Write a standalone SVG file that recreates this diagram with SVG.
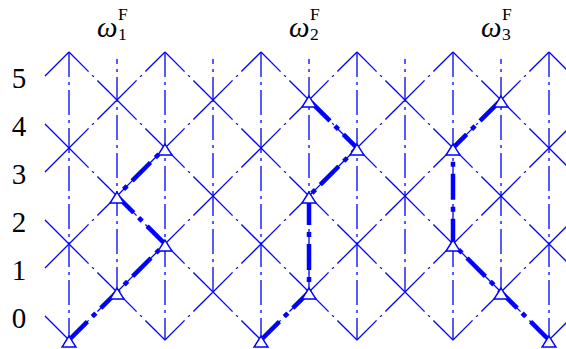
<svg xmlns="http://www.w3.org/2000/svg" xmlns:xlink="http://www.w3.org/1999/xlink" width="566" height="349" viewBox="0 0 566 349">
<style>
.thin{fill:none;stroke:#0000ff;stroke-width:1.3}
.diag{stroke-dasharray:27.7 5 2.5 5}
.vert{stroke-dasharray:25 5 3 5}
.thick{fill:none;stroke:#0000ff;stroke-width:4.5;stroke-dasharray:26 7 5 7;stroke-linejoin:miter}
.tri{fill:#fff;stroke:#0000ff;stroke-width:1.4}
</style>
<defs>
<polygon id="tri" class="tri" points="0,-4 -7,7 7,7"/>
</defs>
<g id="grid">
<path class="thin diag" d="M69,340L117,292M117,292L165,244M165,244L213,196M213,196L261,148M261,148L309,100M309,100L357,52
M165,340L213,292M213,292L261,244M261,244L309,196M309,196L357,148M357,148L405,100M405,100L453,52
M261,340L309,292M309,292L357,244M357,244L405,196M405,196L453,148M453,148L501,100M501,100L549,52
M357,340L405,292M405,292L453,244M453,244L501,196M501,196L549,148
M453,340L501,292M501,292L549,244
M69,244L117,196M117,196L165,148M165,148L213,100M213,100L261,52
M69,148L117,100M117,100L165,52
M69,52L117,100M117,100L165,148M165,148L213,196M213,196L261,244M261,244L309,292M309,292L357,340
M165,52L213,100M213,100L261,148M261,148L309,196M309,196L357,244M357,244L405,292M405,292L453,340
M261,52L309,100M309,100L357,148M357,148L405,196M405,196L453,244M453,244L501,292M501,292L549,340
M357,52L405,100M405,100L453,148M453,148L501,196M501,196L549,244
M453,52L501,100M501,100L549,148
M69,148L117,196M117,196L165,244M165,244L213,292M213,292L261,340
M69,244L117,292M117,292L165,340"/>
<path class="thin" d="M45,76L69,52M45,172L69,148M45,268L69,244M45,124L69,148M45,220L69,244M45,316L69,340
M549,148L573,124M549,244L573,220M549,340L573,316M549,244L573,268M549,148L573,172M549,52L573,76"/>
<path class="thin vert" d="M69,52V340M165,52V340M261,52V340M357,52V340M453,52V340M549,52V340
M117,292V59M213,292V59M309,292V59M405,292V59M501,292V59"/>
</g>
<g id="connectors">
<path class="thick" d="M69,340L117,292L165,244L117,196L165,148"/>
<path class="thick" d="M261,340L309,292L309,196L357,148L309,100"/>
<path class="thick" d="M549,340L501,292L453,244L453,148L501,100"/>
</g>
<g id="n1-0"><use xlink:href="#tri" x="69" y="340"/></g>
<g id="n1-1"><use xlink:href="#tri" x="117" y="292"/></g>
<g id="n1-2"><use xlink:href="#tri" x="165" y="244"/></g>
<g id="n1-3"><use xlink:href="#tri" x="117" y="196"/></g>
<g id="n1-4"><use xlink:href="#tri" x="165" y="148"/></g>
<g id="n2-0"><use xlink:href="#tri" x="261" y="340"/></g>
<g id="n2-1"><use xlink:href="#tri" x="309" y="292"/></g>
<g id="n2-2"><use xlink:href="#tri" x="309" y="196"/></g>
<g id="n2-3"><use xlink:href="#tri" x="357" y="148"/></g>
<g id="n2-4"><use xlink:href="#tri" x="309" y="100"/></g>
<g id="n3-0"><use xlink:href="#tri" x="549" y="340"/></g>
<g id="n3-1"><use xlink:href="#tri" x="501" y="292"/></g>
<g id="n3-2"><use xlink:href="#tri" x="453" y="244"/></g>
<g id="n3-3"><use xlink:href="#tri" x="453" y="148"/></g>
<g id="n3-4"><use xlink:href="#tri" x="501" y="100"/></g>
<g id="levels" font-family="'Liberation Serif', 'DejaVu Serif', serif" font-size="29" fill="#000" text-anchor="middle">
<text x="19" y="328">0</text>
<text x="19" y="280">1</text>
<text x="19" y="232">2</text>
<text x="19" y="184">3</text>
<text x="19" y="136">4</text>
<text x="19" y="88">5</text>
</g>
<g id="titles" font-family="'Liberation Serif', 'DejaVu Serif', serif" fill="#000">
<text x="97" y="37" font-size="29" font-style="italic">ω</text><text x="118" y="19.5" font-size="17.5">F</text><text x="118" y="39.5" font-size="17.5">1</text>
<text x="289" y="37" font-size="29" font-style="italic">ω</text><text x="310" y="19.5" font-size="17.5">F</text><text x="310" y="39.5" font-size="17.5">2</text>
<text x="481" y="37" font-size="29" font-style="italic">ω</text><text x="502" y="19.5" font-size="17.5">F</text><text x="502" y="39.5" font-size="17.5">3</text>
</g>
</svg>
